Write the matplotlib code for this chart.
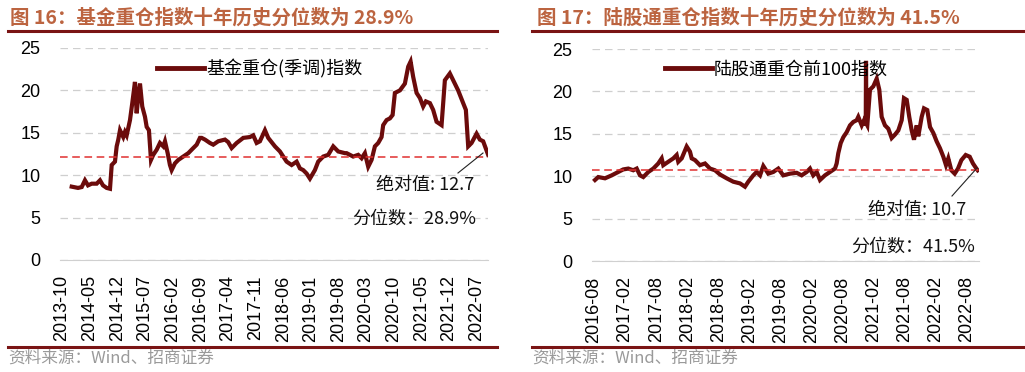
import matplotlib.pyplot as plt
from matplotlib.lines import Line2D

plt.rcParams['font.family'] = ['Noto Sans CJK SC', 'DejaVu Sans']

# 图16 基金重仓(季调)指数 (x in decimal years)
fund_t = [2013.955, 2014.088, 2014.166, 2014.235, 2014.299, 2014.377, 2014.482, 2014.552,
          2014.615, 2014.693, 2014.763, 2014.799, 2014.868, 2014.904, 2014.938, 2014.974,
          2015.043, 2015.079, 2015.115, 2015.185, 2015.233, 2015.29, 2015.326, 2015.36,
          2015.396, 2015.444, 2015.501, 2015.537, 2015.585, 2015.628, 2015.676, 2015.748,
          2015.817, 2015.887, 2015.923, 2015.98, 2016.028, 2016.064, 2016.134, 2016.204,
          2016.309, 2016.415, 2016.52, 2016.592, 2016.661, 2016.697, 2016.767, 2016.872,
          2016.942, 2017.047, 2017.189, 2017.258, 2017.33, 2017.436, 2017.575, 2017.716,
          2017.786, 2017.858, 2017.927, 2018.033, 2018.102, 2018.244, 2018.349, 2018.419,
          2018.49, 2018.596, 2018.701, 2018.771, 2018.841, 2018.912, 2018.982, 2019.087,
          2019.157, 2019.263, 2019.368, 2019.474, 2019.579, 2019.72, 2019.756, 2019.895,
          2020.001, 2020.073, 2020.142, 2020.212, 2020.283, 2020.353, 2020.423, 2020.494,
          2020.528, 2020.6, 2020.67, 2020.727, 2020.775, 2020.881, 2020.986, 2021.056,
          2021.107, 2021.161, 2021.233, 2021.303, 2021.372, 2021.429, 2021.514, 2021.583,
          2021.655, 2021.76, 2021.83, 2021.935, 2022.04, 2022.11, 2022.216, 2022.273,
          2022.322, 2022.393, 2022.499, 2022.568, 2022.638, 2022.743]
fund_v = [8.65, 8.5, 8.6, 9.4, 8.8, 9.0, 9.0, 9.4,
          8.8, 8.5, 8.4, 11.2, 11.6, 13.4, 14.2, 15.3,
          14.5, 15.1, 14.7, 16.5, 18.5, 21.0, 17.3, 19.3,
          20.8, 18.1, 16.9, 15.7, 15.3, 11.8, 12.4, 13.0,
          13.8, 13.4, 14.0, 12.6, 11.2, 10.6, 11.4, 11.8,
          12.2, 12.6, 13.2, 13.6, 14.4, 14.4, 14.2, 13.8,
          13.6, 14.0, 14.2, 13.9, 13.2, 13.8, 14.4, 14.5,
          14.7, 13.8, 14.0, 15.3, 14.4, 13.4, 12.8, 12.2,
          11.6, 11.2, 11.6, 10.8, 10.6, 10.2, 9.6, 10.6,
          11.6, 12.2, 12.4, 13.4, 12.8, 12.6, 12.6, 12.2,
          12.4, 12.0, 12.6, 11.0, 11.8, 13.4, 13.8, 14.5,
          15.9, 16.5, 16.7, 17.1, 19.7, 20.0, 20.8, 22.8,
          23.4, 21.6, 19.7, 19.1, 18.1, 18.7, 18.5, 17.7,
          16.3, 15.9, 21.2, 22.0, 20.8, 20.0, 18.5, 17.7,
          13.4, 13.8, 14.9, 14.2, 14.0, 12.4]
fund_ticks = ['2013-10', '2014-05', '2014-12', '2015-07', '2016-02', '2016-09', '2017-04',
              '2017-11', '2018-06', '2019-01', '2019-08', '2020-03', '2020-10', '2021-05',
              '2021-12', '2022-07']
fund_level = 12.1

# 图17 陆股通重仓前100指数
hk_t = [2016.599, 2016.652, 2016.76, 2016.868, 2016.974, 2017.054, 2017.135, 2017.215,
        2017.27, 2017.323, 2017.376, 2017.457, 2017.537, 2017.617, 2017.672, 2017.698,
        2017.778, 2017.859, 2017.913, 2017.939, 2017.994, 2018.074, 2018.127, 2018.155,
        2018.208, 2018.288, 2018.369, 2018.449, 2018.53, 2018.61, 2018.718, 2018.824,
        2018.932, 2019.012, 2019.065, 2019.146, 2019.2, 2019.254, 2019.307, 2019.387,
        2019.468, 2019.548, 2019.628, 2019.736, 2019.844, 2019.924, 2020.005, 2020.058,
        2020.111, 2020.166, 2020.219, 2020.299, 2020.38, 2020.46, 2020.487, 2020.513,
        2020.552, 2020.594, 2020.649, 2020.702, 2020.755, 2020.809, 2020.835, 2020.89,
        2020.927, 2020.955, 2020.959, 2020.966, 2020.98, 2021.023, 2021.077, 2021.131,
        2021.173, 2021.211, 2021.264, 2021.318, 2021.372, 2021.425, 2021.479, 2021.533,
        2021.57, 2021.614, 2021.655, 2021.694, 2021.731, 2021.775, 2021.8, 2021.855,
        2021.892, 2021.945, 2021.989, 2022.042, 2022.096, 2022.149, 2022.203, 2022.246,
        2022.283, 2022.332, 2022.386, 2022.439, 2022.494, 2022.563, 2022.627, 2022.68,
        2022.735, 2022.756]
hk_v = [9.55, 9.9, 9.75, 10.1, 10.5, 10.8, 10.9, 10.7,
        10.9, 10.1, 9.9, 10.5, 10.9, 11.5, 12.1, 11.3,
        11.7, 12.1, 12.5, 11.7, 12.1, 13.5, 12.9, 12.1,
        11.9, 11.3, 11.5, 10.9, 10.7, 10.2, 9.75, 9.35,
        9.15, 8.76, 9.35, 10.1, 10.5, 10.1, 11.2, 10.3,
        10.5, 10.9, 10.1, 10.3, 10.4, 10.1, 10.5, 10.9,
        10.1, 10.5, 9.55, 10.1, 10.5, 10.9, 11.5, 12.7,
        13.9, 14.6, 15.2, 16.0, 16.4, 16.6, 17.0, 16.0,
        16.6, 16.0, 23.6, 16.2, 16.0, 20.2, 20.6, 21.5,
        20.2, 17.0, 16.0, 15.6, 14.5, 14.9, 15.4, 16.6,
        19.2, 19.0, 17.0, 15.4, 14.3, 16.0, 14.7, 17.0,
        18.0, 17.8, 15.8, 15.1, 14.1, 13.3, 12.3, 11.3,
        12.1, 10.7, 10.3, 10.9, 11.9, 12.5, 12.3, 11.5,
        10.9, 10.7]
hk_ticks = ['2016-08', '2017-02', '2017-08', '2018-02', '2018-08', '2019-02', '2019-08',
            '2020-02', '2020-08', '2021-02', '2021-08', '2022-02', '2022-08']
hk_level = 10.7

LINE = '#6B0B0B'
RULE = '#7A1414'
TITLE = '#BC6440'
W, H = 1025, 372


def to_year(label):
    y, m = label.split('-')
    return int(y) + (int(m) - 1) / 12


def px(x, y):
    return x / W, 1 - y / H


fig = plt.figure(figsize=(W / 100, H / 100), dpi=100)
legend_anchor = {'基金重仓(季调)指数': (0.21, 0.98), '陆股通重仓前100指数': (0.17, 0.98)}


def panel(rect, t, v, ticks, level, xlim, legend, abs_txt, pct_txt, abs_xy, pct_xy, lead):
    ax = fig.add_axes(rect)
    ax.plot(t, v, color=LINE, lw=3.0, solid_joinstyle='miter')
    ax.axhline(level, color='#E03030', lw=1.1, ls=(0, (5, 3)))
    ax.set_xlim(*xlim)
    ax.set_ylim(0, 25)
    ax.set_yticks([0, 5, 10, 15, 20, 25])
    ax.set_xticks([to_year(s) for s in ticks])
    ax.set_xticklabels(ticks, rotation=90, family='Liberation Sans', fontsize=13)
    for lab in ax.get_yticklabels():
        lab.set_family('Liberation Sans')
        lab.set_fontsize(13)
    ax.tick_params(length=0, pad=14)
    ax.tick_params(axis='x', pad=11)
    ax.grid(axis='y', color='#CFCFCF', ls=(0, (6, 4)), lw=0.9)
    for s in ['top', 'left', 'right']:
        ax.spines[s].set_visible(False)
    ax.spines['bottom'].set_color('#D0D0D0')
    ax.legend([Line2D([], [], color=LINE, lw=3.5)], [legend], loc='upper left',
              bbox_to_anchor=legend_anchor[legend], frameon=False, fontsize=13,
              handlelength=2.6, handletextpad=0.1, borderaxespad=0)
    fig.text(*px(*abs_xy), abs_txt, fontsize=13, ha='right', va='center', color='#111111')
    fig.text(*px(*pct_xy), pct_txt, fontsize=13, ha='right', va='center', color='#111111')
    fig.add_artist(Line2D([lead[0][0] / W, lead[1][0] / W], [1 - lead[0][1] / H, 1 - lead[1][1] / H],
                          color='#222222', lw=0.8))
    return ax


panel([60 / W, 1 - 260 / H, 428 / W, 212 / H], fund_t, fund_v, fund_ticks, fund_level,
      (2013.708, 2022.74), '基金重仓(季调)指数', '绝对值: 12.7', '分位数：28.9%',
      (474, 185), (476, 219), ((458, 173), (483, 153)))
panel([592 / W, 1 - 261 / H, 387 / W, 212 / H], hk_t, hk_v, hk_ticks, hk_level,
      (2016.551, 2022.777), '陆股通重仓前100指数', '绝对值: 10.7', '分位数：41.5%',
      (966, 210), (975, 247), ((952, 196), (977, 168)))

fig.text(*px(10, 18), '图 16：基金重仓指数十年历史分位数为 28.9%', fontsize=14,
         fontweight='bold', color=TITLE, va='center', ha='left')
fig.text(*px(537, 18), '图 17：陆股通重仓指数十年历史分位数为 41.5%', fontsize=14,
         fontweight='bold', color=TITLE, va='center', ha='left')
for x0, x1 in [(8, 497), (532, 1023)]:
    for y in (31, 347):
        fig.add_artist(Line2D([x0 / W, x1 / W], [1 - y / H, 1 - y / H], color=RULE, lw=2.2))
fig.text(*px(8, 358), '资料来源：Wind、招商证券', fontsize=12, color='#9A9A9A', va='center')
fig.text(*px(532, 358), '资料来源：Wind、招商证券', fontsize=12, color='#9A9A9A', va='center')

fig.savefig('out.png', dpi=100)
